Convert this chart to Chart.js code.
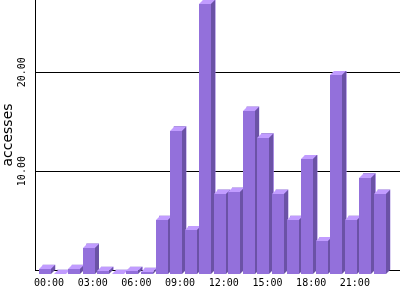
<!DOCTYPE html>
<html>
<head>
<meta charset="utf-8">
<script src="https://cdn.jsdelivr.net/npm/chart.js@4"></script>
<style>
    html, body { margin: 0; padding: 0; background: #fff; }
    #wrap { width: 400px; height: 300px; }
</style>
</head>
<body>
<div id="wrap"><canvas id="Toegang_Chart"></canvas></div>
<script>
// Uren (categorieen) en gemiddelde toegangen per uur
var uren = ['00:00', '01:00', '02:00', '03:00', '04:00', '05:00', '06:00', '07:00',
            '08:00', '09:00', '10:00', '11:00', '12:00', '13:00', '14:00', '15:00',
            '16:00', '17:00', '18:00', '19:00', '20:00', '21:00', '22:00', '23:00'];
var toegangen = [0.5, 0, 0.5, 2.65, 0.3, 0, 0.3, 0.2,
                 5.46, 14.5, 4.4, 27.3, 8.1, 8.3, 16.5, 13.8,
                 8.1, 5.46, 11.6, 3.3, 20.1, 5.46, 9.74, 8.1];
var xTickUren = [0, 3, 6, 9, 12, 15, 18, 21];
var yTicks = [10, 20];

var kleurVoor = '#9370DB';
var kleurBoven = '#C19CFF';
var kleurZij = '#6B52A6';
var diepteX = 4, diepteY = 4;

// 3D effect: voorkant, bovenkant en zijkant tekenen vanuit de bar elementen
var driedPlugin = {
    id: 'driedBalken',
    afterDatasetsDraw: function (chart) {
        var ctx = chart.ctx;
        var meta = chart.getDatasetMeta(0);
        ctx.save();
        meta.data.forEach(function (bar) {
            var p = bar.getProps(['x', 'y', 'base', 'width'], true);
            var l = Math.round(p.x - p.width / 2), r = Math.round(p.x + p.width / 2);
            var t = Math.round(p.y), b = Math.round(p.base);
            var fl = l - diepteX, fr = r - diepteX, ft = t + diepteY, fb = b + diepteY;
            // bovenkant
            ctx.fillStyle = kleurBoven;
            ctx.beginPath();
            ctx.moveTo(fl, ft); ctx.lineTo(fr, ft); ctx.lineTo(r, t); ctx.lineTo(l, t);
            ctx.closePath(); ctx.fill();
            // zijkant
            ctx.fillStyle = kleurZij;
            ctx.beginPath();
            ctx.moveTo(fr, ft); ctx.lineTo(r, t); ctx.lineTo(r, b); ctx.lineTo(fr, fb);
            ctx.closePath(); ctx.fill();
            // voorkant
            ctx.fillStyle = kleurVoor;
            ctx.fillRect(fl, ft, fr - fl, fb - ft);
        });
        ctx.restore();
    },
    afterDraw: function (chart) {
        // gedraaide labels op de y-as
        var ctx = chart.ctx;
        var schaal = chart.scales.y;
        ctx.save();
        ctx.fillStyle = '#000';
        ctx.font = "10px 'DejaVu Sans Mono'";
        ctx.textAlign = 'center';
        ctx.textBaseline = 'middle';
        yTicks.forEach(function (v) {
            ctx.save();
            ctx.translate(22.5, schaal.getPixelForValue(v));
            ctx.rotate(-Math.PI / 2);
            ctx.fillText(v.toFixed(2), 0, 0);
            ctx.restore();
        });
        ctx.restore();
    }
};

var ctx = document.getElementById('Toegang_Chart').getContext('2d');
var toegangChart = new Chart(ctx, {
    type: 'bar',
    data: {
        datasets: [{
            label: 'accesses',
            data: uren.map(function (u, i) { return { x: i, y: toegangen[i] }; }),
            backgroundColor: kleurVoor,
            borderWidth: 0,
            barThickness: 12
        }]
    },
    options: {
        maintainAspectRatio: false,
        responsive: true,
        animation: false,
        layout: { padding: { top: 0, right: 0, left: 0, bottom: 4 } },
        plugins: { legend: { display: false }, tooltip: { enabled: false } },
        scales: {
            x: {
                type: 'linear',
                offset: false,
                min: -0.961,
                max: 24.1,
                afterBuildTicks: function (axis) {
                    axis.ticks = xTickUren.map(function (v) { return { value: v }; });
                },
                ticks: {
                    autoSkip: false,
                    maxRotation: 0,
                    padding: 7,
                    color: '#000',
                    font: { family: 'DejaVu Sans Mono', size: 10 },
                    callback: function (v) { return uren[v]; }
                },
                grid: { display: false, drawTicks: false },
                border: { display: true, color: '#000', width: 1 }
            },
            y: {
                min: 0,
                max: 27.3,
                afterBuildTicks: function (axis) {
                    axis.ticks = [0].concat(yTicks).map(function (v) { return { value: v }; });
                },
                ticks: { display: false },
                grid: { color: '#000', lineWidth: 1, drawTicks: false },
                border: { display: true, color: '#000', width: 1 },
                title: {
                    display: true,
                    text: 'accesses',
                    color: '#000',
                    font: { family: 'DejaVu Sans', size: 14 },
                    padding: { top: 0, bottom: 18.2 }
                }
            }
        }
    },
    plugins: [driedPlugin]
});
</script>
</body>
</html>
